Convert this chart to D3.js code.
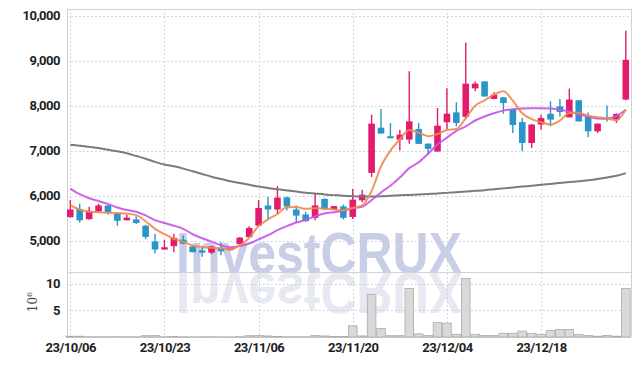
<!DOCTYPE html>
<html>
<head>
<meta charset="utf-8">
<script src="https://cdn.jsdelivr.net/npm/d3@7"></script>
<style>
body { margin: 0; background: #fff; }
svg { display: block; }
</style>
</head>
<body>
<script>
//Trading days (YY/MM/DD)
var dates = ["23/10/06","23/10/10","23/10/11","23/10/12","23/10/13","23/10/16","23/10/17","23/10/18","23/10/19","23/10/20",
             "23/10/23","23/10/24","23/10/25","23/10/26","23/10/27","23/10/30","23/10/31","23/11/01","23/11/02","23/11/03",
             "23/11/06","23/11/07","23/11/08","23/11/09","23/11/10","23/11/13","23/11/14","23/11/15","23/11/16","23/11/17",
             "23/11/20","23/11/21","23/11/22","23/11/23","23/11/24","23/11/27","23/11/28","23/11/29","23/11/30","23/12/01",
             "23/12/04","23/12/05","23/12/06","23/12/07","23/12/08","23/12/11","23/12/12","23/12/13","23/12/14","23/12/15",
             "23/12/18","23/12/19","23/12/20","23/12/21","23/12/22","23/12/26","23/12/27","23/12/28","24/01/02","24/01/03"];

//Prices
var opens  = [5520,5700,5475,5645,5780,5610,5450,5470,5330,4980, 4800,4875,5020,4870,4780,4730,4840,4785,4920,5075,
              5330,5780,5690,5960,5690,5580,5505,5925,5690,5760, 5525,5895,6505,7510,7320,7245,7245,7480,7155,6980,
              7630,7850,7750,8385,8540,8150,8185,7925,7635,7170, 7580,7820,7985,7740,8120,7765,7430,7735,7690,8135];
var highs  = [5900,5820,5750,5820,5790,5620,5580,5540,5350,5150, 5020,5150,5110,4880,4860,4880,4960,4840,5080,5320,
              5900,5970,6210,5975,5780,5640,6045,5940,5770,5800, 6150,6130,7800,7925,7615,7465,8765,7615,7160,7950,
              8385,8075,9405,8540,8540,8300,8190,7930,7725,7590, 7800,8095,8150,8380,8120,7850,7605,8005,7830,9665];
var lows   = [5510,5400,5460,5640,5580,5330,5450,5370,5030,4710, 4800,4740,4920,4740,4640,4700,4670,4780,4910,5070,
              5320,5460,5580,5670,5400,5420,5450,5690,5690,5470, 5480,5850,6415,7380,7270,7005,7155,7150,6910,6975,
              7465,7540,7700,8320,8200,8140,7820,7390,6985,7060, 7465,7540,7760,7740,7650,7300,7390,7650,7615,8120];
var closes = [5690,5450,5660,5780,5630,5440,5510,5390,5080,4800, 4850,5060,4930,4740,4730,4870,4760,4830,5065,5280,
              5725,5690,5955,5760,5555,5430,5780,5690,5765,5505, 5910,6020,7600,7380,7275,7355,7650,7150,7040,7555,
              7820,7615,8490,8490,8205,8245,8060,7570,7170,7580, 7725,7690,7860,8135,7650,7430,7600,7705,7815,9020];

//Volume (millions of shares)
var volumes = [0.15,0.15,0.05,0.05,0.05,0.06,0.04,0.05,0.25,0.3, 0.05,0.08,0.05,0.04,0.04,0.05,0.04,0.03,0.06,0.25,
               0.3,0.2,0.08,0.05,0.05,0.04,0.3,0.2,0.08,0.1, 2.1,0.2,8.0,1.6,0.25,0.25,9.1,0.6,0.3,2.7,
               2.6,0.5,11.0,0.5,0.3,0.3,0.7,0.7,1.1,0.7, 0.5,1.2,1.4,1.4,0.5,0.3,0.15,0.3,0.15,9.1];

//Moving averages
var ma5  = [5785,5690,5640,5630,5620,5610,5600,5565,5430,5260, 5140,5040,4970,4890,4855,4840,4825,4805,4890,5060,
            5320,5470,5590,5740,5745,5705,5720,5715,5690,5675, 5725,5780,6100,6650,7000,7250,7460,7400,7320,7370,
            7460,7480,7720,8000,8120,8245,8320,8110,7830,7700, 7630,7580,7670,7835,7840,7775,7745,7715,7675,7915];
var ma20 = [6156,6030,5940,5880,5815,5735,5680,5640,5560,5455, 5390,5330,5260,5140,5050,4975,4895,4850,4880,4935,
            5025,5120,5230,5320,5400,5460,5540,5600,5630,5660, 5720,5750,5900,6070,6220,6400,6610,6740,6930,7140,
            7290,7440,7540,7670,7760,7830,7890,7920,7935,7940, 7940,7935,7910,7870,7810,7760,7715,7710,7770,7910];
var ma60 = [7130,7110,7085,7060,7020,6985,6940,6880,6820,6750, 6690,6650,6600,6540,6480,6420,6370,6320,6280,6240,
            6200,6170,6140,6115,6090,6065,6045,6025,6010,5995, 5985,5980,5980,5985,5995,6005,6015,6025,6035,6045,
            6060,6075,6090,6105,6120,6140,6160,6180,6200,6220, 6240,6260,6280,6300,6320,6340,6370,6400,6440,6500];

//Ticks
var priceTicks = [5000,6000,7000,8000,9000,10000];
var volTicks = [5,10];
var dateTicks = [0,10,20,30,40,50];

//Width and height
var w = 639;
var h = 366;
var plotL = 67, plotR = 631, plotT = 9, plotM = 272, plotB = 337;

var svg = d3.select("body")
            .append("svg")
            .attr("width", w)
            .attr("height", h);

//Scales
var x = d3.scaleLinear().domain([-0.35, 59.55]).range([plotL, plotR]);
var y = d3.scaleLinear().domain([4300, 10150]).range([plotM, plotT]);
var yv = d3.scaleLinear().domain([0, 12.2]).range([plotB, plotM]);

//Watermark and its reflection
var wm = svg.append("g");
wm.append("text")
  .attr("x", 176).attr("y", 273)
  .attr("font-family", "Liberation Sans, Arial, sans-serif")
  .attr("font-weight", "bold")
  .attr("font-size", 57)
  .attr("textLength", 286)
  .attr("lengthAdjust", "spacingAndGlyphs")
  .attr("fill", "#c8cee6")
  .text("InvestCRUX");
wm.append("text")
  .attr("x", 176).attr("y", 273)
  .attr("transform", "translate(0,546) scale(1,-1)")
  .attr("font-family", "Liberation Sans, Arial, sans-serif")
  .attr("font-weight", "bold")
  .attr("font-size", 57)
  .attr("textLength", 286)
  .attr("lengthAdjust", "spacingAndGlyphs")
  .attr("fill", "#e6e8f2")
  .text("InvestCRUX");

//Grid
var grid = svg.append("g")
    .attr("stroke", "#c6cbdd")
    .attr("stroke-width", 1)
    .attr("stroke-dasharray", "1.5,2.5");

grid.selectAll(".hp")
    .data(priceTicks)
    .enter()
    .append("line")
    .attr("x1", plotL).attr("x2", plotR)
    .attr("y1", function(d) { return Math.round(y(d)) + 0.5; })
    .attr("y2", function(d) { return Math.round(y(d)) + 0.5; });

grid.selectAll(".hv")
    .data(volTicks)
    .enter()
    .append("line")
    .attr("x1", plotL).attr("x2", plotR)
    .attr("y1", function(d) { return Math.round(yv(d)) + 0.5; })
    .attr("y2", function(d) { return Math.round(yv(d)) + 0.5; });

grid.selectAll(".vx")
    .data(dateTicks)
    .enter()
    .append("line")
    .attr("y1", plotT).attr("y2", plotB)
    .attr("x1", function(d) { return Math.round(x(d)) + 0.5; })
    .attr("x2", function(d) { return Math.round(x(d)) + 0.5; });

//Frame
var frame = svg.append("g").attr("stroke", "#d2d2d2").attr("stroke-width", 1);
frame.append("line").attr("x1", plotL + 0.5).attr("x2", plotL + 0.5).attr("y1", plotT).attr("y2", plotB);
frame.append("line").attr("x1", plotR + 0.5).attr("x2", plotR + 0.5).attr("y1", plotT).attr("y2", plotB);
frame.append("line").attr("x1", plotL).attr("x2", plotR).attr("y1", plotT + 0.5).attr("y2", plotT + 0.5);
frame.append("line").attr("x1", plotL).attr("x2", plotR).attr("y1", plotM + 0.5).attr("y2", plotM + 0.5);
frame.append("line").attr("x1", plotL).attr("x2", plotR).attr("y1", plotB + 0.5).attr("y2", plotB + 0.5);

//Volume bars
svg.append("g")
   .selectAll("rect")
   .data(volumes)
   .enter()
   .append("rect")
   .attr("x", function(d, i) { return x(i) - 4.3; })
   .attr("width", 8.6)
   .attr("y", function(d) { return yv(d); })
   .attr("height", function(d) { return plotB - yv(d); })
   .attr("fill", "#d9d9d9")
   .attr("stroke", "#ababab")
   .attr("stroke-width", 0.8);

//Candles
var up = "#e31b6d", down = "#2b94c8";
var idx = d3.range(dates.length);
var candles = svg.append("g");

candles.selectAll("line")
    .data(idx)
    .enter()
    .append("line")
    .attr("x1", function(i) { return x(i); })
    .attr("x2", function(i) { return x(i); })
    .attr("y1", function(i) { return y(highs[i]); })
    .attr("y2", function(i) { return y(lows[i]); })
    .attr("stroke", function(i) { return closes[i] >= opens[i] ? up : down; })
    .attr("stroke-width", 1.4);

candles.selectAll("rect")
    .data(idx)
    .enter()
    .append("rect")
    .attr("x", function(i) { return x(i) - 3.3; })
    .attr("width", 6.6)
    .attr("y", function(i) { return y(Math.max(opens[i], closes[i])); })
    .attr("height", function(i) { return Math.max(1.5, Math.abs(y(opens[i]) - y(closes[i]))); })
    .attr("fill", function(i) { return closes[i] >= opens[i] ? up : down; });

//Moving average lines
var line = d3.line()
    .x(function(d, i) { return x(i); })
    .y(function(d) { return y(d); })
    .curve(d3.curveMonotoneX);

svg.append("path").datum(ma60).attr("d", line)
   .attr("fill", "none").attr("stroke", "#7b7b7b").attr("stroke-width", 2);
svg.append("path").datum(ma20).attr("d", line)
   .attr("fill", "none").attr("stroke", "#c653e8").attr("stroke-width", 2).attr("stroke-opacity", 0.9);
svg.append("path").datum(ma5).attr("d", line)
   .attr("fill", "none").attr("stroke", "#f08a4e").attr("stroke-width", 2).attr("stroke-opacity", 0.9);

//Axes
function styleAxis(g) {
    g.select(".domain").remove();
    g.selectAll("text")
     .attr("font-family", "Roboto, sans-serif")
     .attr("font-weight", 700)
     .attr("font-size", 13)
     .attr("letter-spacing", -0.5)
     .attr("fill", "#1e1e1e");
}

svg.append("g")
   .attr("transform", "translate(" + plotL + ",0)")
   .call(d3.axisLeft(y).tickValues(priceTicks).tickFormat(d3.format(",")).tickSize(0).tickPadding(7))
   .call(styleAxis);

svg.append("g")
   .attr("transform", "translate(" + plotL + ",0)")
   .call(d3.axisLeft(yv).tickValues(volTicks).tickFormat(function(d) { return d; }).tickSize(0).tickPadding(7))
   .call(styleAxis);

svg.append("g")
   .attr("transform", "translate(0," + plotB + ")")
   .call(d3.axisBottom(x).tickValues(dateTicks).tickFormat(function(i) { return dates[i]; }).tickSize(0).tickPadding(6))
   .call(styleAxis);

//Volume unit label
var unit = svg.append("text")
    .attr("transform", "translate(37,302) rotate(-90)")
    .attr("text-anchor", "middle")
    .attr("font-family", "DejaVu Serif, serif")
    .attr("font-size", 12)
    .attr("fill", "#444");
unit.append("tspan").text("10");
unit.append("tspan").attr("dy", -5).attr("font-size", 8).text("6");
</script>
</body>
</html>
